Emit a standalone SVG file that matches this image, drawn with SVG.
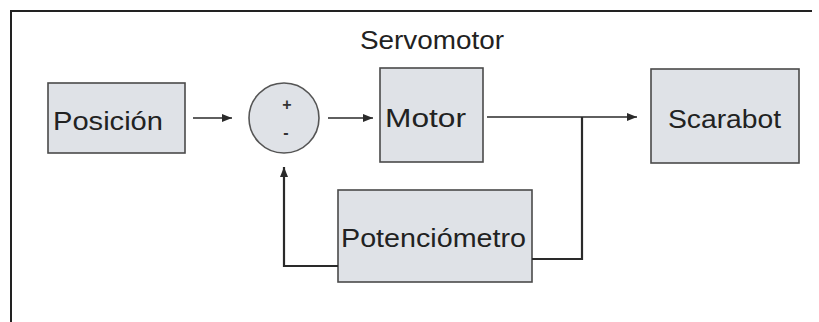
<svg xmlns="http://www.w3.org/2000/svg" width="819" height="322" viewBox="0 0 819 322">
<style>
.box{fill:#dfe2e7;stroke:#4a4a4a;stroke-width:1.6}
.lbl{font-family:"Liberation Sans",Arial,sans-serif;font-size:26px;fill:#222}
.ln{fill:none;stroke:#2a2a2a;stroke-width:1.6}
.fb{fill:none;stroke:#2a2a2a;stroke-width:2.2}
.sg{font-family:"Liberation Sans",Arial,sans-serif;font-size:16px;font-weight:bold;fill:#333;text-anchor:middle}
</style>
<defs>
<marker id="ah" viewBox="0 0 10 10" refX="10" refY="5" markerWidth="10" markerHeight="10" markerUnits="userSpaceOnUse" orient="auto">
<path d="M0,1 L10,5 L0,9 Z" fill="#2a2a2a"/>
</marker>
</defs>
<rect width="819" height="322" fill="#ffffff"/>
<g id="frame">
<path d="M11,322 V11 H812" fill="none" stroke="#222" stroke-width="2"/>
</g>
<g id="title">
<text class="lbl" x="360" y="49" textLength="144" lengthAdjust="spacingAndGlyphs">Servomotor</text>
</g>
<g id="posicion">
<rect class="box" x="48" y="83" width="137" height="70"/>
<text class="lbl" x="53" y="130" textLength="110" lengthAdjust="spacingAndGlyphs">Posición</text>
</g>
<g id="sumador">
<circle cx="284" cy="118" r="35" fill="#dfe2e7" stroke="#555" stroke-width="1.6"/>
<text class="sg" x="287" y="110">+</text>
<text class="sg" x="286" y="138">-</text>
</g>
<g id="motor">
<rect class="box" x="380" y="68" width="103" height="94"/>
<text class="lbl" x="385" y="127" textLength="81" lengthAdjust="spacingAndGlyphs">Motor</text>
</g>
<g id="scarabot">
<rect class="box" x="651" y="69" width="148" height="94"/>
<text class="lbl" x="668" y="128" textLength="113" lengthAdjust="spacingAndGlyphs">Scarabot</text>
</g>
<g id="potenciometro">
<rect class="box" x="338" y="190" width="194" height="92"/>
<text class="lbl" x="341" y="247" textLength="185" lengthAdjust="spacingAndGlyphs">Potenciómetro</text>
</g>
<g id="connectors">
<line class="ln" x1="193" y1="118" x2="232" y2="118" marker-end="url(#ah)"/>
<line class="ln" x1="328" y1="118" x2="373" y2="118" marker-end="url(#ah)"/>
<line class="ln" x1="487" y1="117" x2="637" y2="117" marker-end="url(#ah)"/>
<polyline class="fb" points="532,259 582,259 582,117"/>
<polyline class="fb" points="338,266 284,266 284,167" marker-end="url(#ah)"/>
</g>
</svg>
